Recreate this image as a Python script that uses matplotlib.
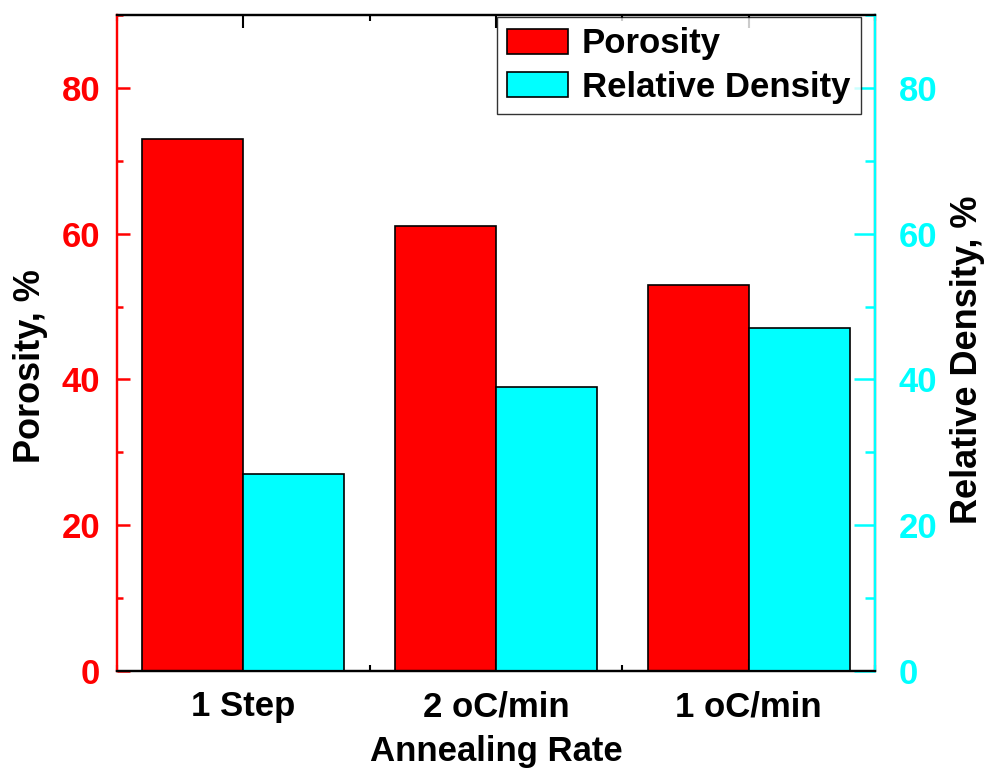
import matplotlib
matplotlib.use('Agg')
import matplotlib.pyplot as plt
from matplotlib.ticker import MultipleLocator

categories = ['1 Step', '2 oC/min', '1 oC/min']
porosity = [73, 61, 53]
rel_density = [27, 39, 47]

plt.rcParams['font.family'] = 'Liberation Sans'
plt.rcParams['font.weight'] = 'bold'

fig = plt.figure(figsize=(9.88, 7.71), dpi=100)
ax = fig.add_axes([0.1184, 0.1297, 0.7672, 0.8508])
ax2 = ax.twinx()

x = [1, 2, 3]
w = 0.4
b1 = ax.bar([i - w / 2 for i in x], porosity, w, color='#ff0000', edgecolor='black', linewidth=1.2, label='Porosity')
b2 = ax2.bar([i + w / 2 for i in x], rel_density, w, color='#00ffff', edgecolor='black', linewidth=1.2, label='Relative Density')

for a in (ax, ax2):
    a.set_ylim(0, 90)
    a.set_xlim(0.5, 3.5)
    a.yaxis.set_major_locator(MultipleLocator(20))
    a.yaxis.set_minor_locator(MultipleLocator(10))
    for s in a.spines.values():
        s.set_linewidth(1.6)

ax.set_xticks(x)
ax.set_xticklabels(categories, fontsize=25, fontweight='bold')
ax.xaxis.set_minor_locator(MultipleLocator(0.5))
ax.tick_params(axis='x', which='major', direction='in', length=9, width=1.5, top=True, pad=14)
ax.tick_params(axis='x', which='minor', direction='in', length=4, width=1.5, top=True)

ax.spines['left'].set_color('#ff0000')
ax.tick_params(axis='y', which='both', colors='#ff0000', direction='in', width=1.8, labelsize=25, pad=12)
ax.tick_params(axis='y', which='major', length=9.5)
ax.tick_params(axis='y', which='minor', length=4.5)

ax2.spines['right'].set_color('#00ffff')
ax2.spines['left'].set_color('#ff0000')
ax2.tick_params(axis='y', which='both', colors='#00ffff', direction='in', width=1.8, labelsize=25, pad=17)
ax2.tick_params(axis='y', which='major', length=15)
ax2.tick_params(axis='y', which='minor', length=7.5)

for lab in ax.get_yticklabels() + ax2.get_yticklabels():
    lab.set_fontweight('bold')

ax.set_ylabel('Porosity, %', fontsize=26, fontweight='bold', labelpad=10)
ax2.set_ylabel('Relative Density, %', fontsize=26, fontweight='bold', labelpad=9)
ax.yaxis.label.set_y(0.465)
ax2.yaxis.label.set_y(0.475)
ax.set_xlabel('Annealing Rate', fontsize=25, fontweight='bold', labelpad=8)

leg = ax2.legend([b1, b2], ['Porosity', 'Relative Density'], loc='upper right',
                 bbox_to_anchor=(0.981, 0.997), fontsize=25, frameon=True, fancybox=False,
                 edgecolor='black', handlelength=1.75, handleheight=0.72, borderpad=0.3,
                 labelspacing=0.3, handletextpad=0.4, borderaxespad=0.0)
leg.get_frame().set_linewidth(1.0)
for t in leg.get_texts():
    t.set_fontweight('bold')

fig.savefig('out.png', dpi=100)
